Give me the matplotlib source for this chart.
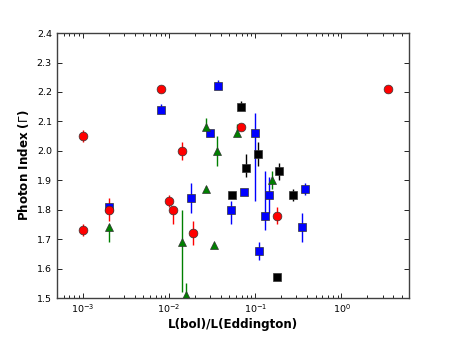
import numpy as np
import matplotlib
matplotlib.use('Agg')
import matplotlib.pyplot as plt

# red circles
red_x = [1e-3, 1e-3, 2e-3, 0.008, 0.010, 0.011, 0.014, 0.019, 0.068, 0.177, 3.5]
red_y = [2.05, 1.73, 1.80, 2.21, 1.83, 1.80, 2.00, 1.72, 2.08, 1.78, 2.21]
red_lo = [0.02, 0.02, 0.04, 0.0, 0.02, 0.05, 0.03, 0.04, 0.01, 0.03, 0.0]
red_hi = [0.02, 0.02, 0.04, 0.0, 0.02, 0.01, 0.03, 0.04, 0.01, 0.03, 0.0]

# blue squares
blue_x = [2e-3, 0.0081, 0.037, 0.030, 0.018, 0.0525, 0.0736, 0.100, 0.111, 0.129, 0.146, 0.373, 0.350]
blue_y = [1.81, 2.14, 2.22, 2.06, 1.84, 1.80, 1.86, 2.06, 1.66, 1.78, 1.85, 1.87, 1.74]
blue_lo = [0.01, 0.01, 0.01, 0.01, 0.05, 0.05, 0.01, 0.23, 0.03, 0.05, 0.06, 0.02, 0.05]
blue_hi = [0.01, 0.02, 0.02, 0.01, 0.05, 0.03, 0.01, 0.07, 0.03, 0.15, 0.06, 0.02, 0.05]

# black squares
black_x = [0.068, 0.107, 0.078, 0.054, 0.188, 0.274, 0.177]
black_y = [2.15, 1.99, 1.94, 1.85, 1.93, 1.85, 1.57]
black_lo = [0.01, 0.04, 0.03, 0.01, 0.03, 0.02, 0.0]
black_hi = [0.02, 0.04, 0.05, 0.01, 0.03, 0.02, 0.0]

# green triangles
green_x = [2e-3, 0.014, 0.0158, 0.027, 0.036, 0.0268, 0.033, 0.061, 0.158]
green_y = [1.74, 1.69, 1.51, 2.08, 2.00, 1.87, 1.68, 2.06, 1.90]
green_lo = [0.05, 0.17, 0.01, 0.01, 0.05, 0.01, 0.0, 0.01, 0.03]
green_hi = [0.01, 0.11, 0.04, 0.03, 0.05, 0.01, 0.0, 0.03, 0.03]


def plot_series(ax, x, y, lo, hi, color, marker, ms=6.3):
    ax.errorbar(x, y, yerr=[lo, hi], fmt=marker, color=color, ecolor=color,
                ms=ms, mec='0.2', mew=0.5, elinewidth=1.0, capsize=0)


fig = plt.figure(figsize=(4.54, 3.41), dpi=100)
ax = fig.add_axes([0.125, 0.126, 0.775, 0.777])

plot_series(ax, blue_x, blue_y, blue_lo, blue_hi, 'b', 's', ms=6.0)
plot_series(ax, black_x, black_y, black_lo, black_hi, 'k', 's', ms=6.0)
plot_series(ax, red_x, red_y, red_lo, red_hi, 'r', 'o')
plot_series(ax, green_x, green_y, green_lo, green_hi, 'g', '^')

ax.set_xscale('log')
ax.set_xlim(5e-4, 6)
ax.set_ylim(1.5, 2.4)
ax.set_yticks(np.arange(1.5, 2.41, 0.1))
ax.yaxis.set_major_formatter(matplotlib.ticker.FormatStrFormatter('%.1f'))

ax.tick_params(which='both', direction='in', top=True, right=True,
               labelsize=6.8, width=0.6, colors='k')
ax.tick_params(which='major', length=3.5)
ax.tick_params(which='minor', length=2)
for s in ax.spines.values():
    s.set_linewidth(1.0)
    s.set_color('0.25')

ax.set_xlabel('L(bol)/L(Eddington)', fontsize=8.6, fontweight='bold', labelpad=2)
ax.set_ylabel(r'Photon Index ($\Gamma$)', fontsize=8.6, fontweight='bold', labelpad=4)

fig.savefig('out.png', dpi=100)
